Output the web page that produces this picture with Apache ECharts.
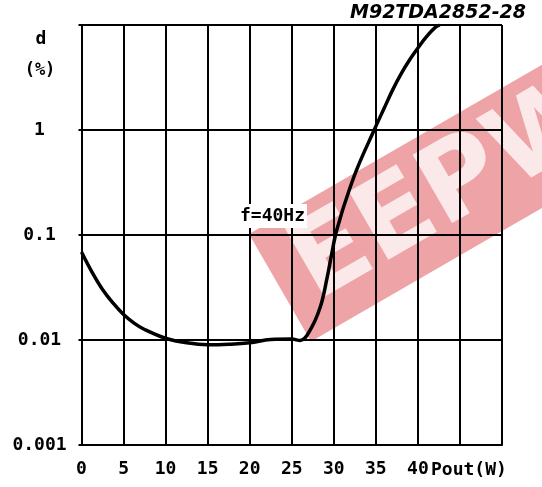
<!DOCTYPE html>
<html>
<head>
<meta charset="utf-8">
<script src="https://cdn.jsdelivr.net/npm/echarts@6/dist/echarts.min.js"></script>
<style>
  html, body { margin: 0; padding: 0; background: #fff; }
  #chart { width: 542px; height: 487px; }
</style>
</head>
<body>
<div id="chart"></div>
<script>
// output power (W) and distortion d (%)
let pout = [0, 1.25, 2.5, 3.75, 5, 6.25, 7.5, 10, 12.5, 15, 17.5, 20, 22.5, 25, 26, 27.2, 28.4, 29.2, 29.7, 30.2, 30.7, 31.2, 32.7, 34.8, 36, 37, 38, 39, 40, 41, 42, 42.6];
let dist = [0.069, 0.0444, 0.0303, 0.0225, 0.0175, 0.0145, 0.0126, 0.0104, 0.0094, 0.009, 0.0091, 0.0094, 0.0101, 0.0102, 0.0099, 0.0125, 0.0207, 0.039, 0.063, 0.1, 0.139, 0.189, 0.415, 1.0, 1.62, 2.41, 3.42, 4.64, 6.04, 7.69, 9.39, 10];

let xTicks = ['0', '5', '10', '15', '20', '25', '30', '35', '40', '', ''];
let yTicks = ['0.001', '0.01', '0.1', '1', ''];

let font = '"DejaVu Sans Mono", monospace';

let chart = echarts.init(document.getElementById('chart'));
let data = pout.map((p, i) => [p, dist[i]]);

let option = {
    backgroundColor: '#fff',
    animation: false,
    grid: { left: 81.5, right: 40, top: 25, bottom: 42 },
    xAxis: {
        type: 'value',
        min: 0,
        max: 50,
        interval: 5,
        axisLine: { show: true, lineStyle: { color: '#000', width: 2 } },
        axisTick: { show: false },
        splitLine: { show: true, lineStyle: { color: '#000', width: 2 } },
        axisLabel: {
            margin: 15,
            color: '#000',
            fontFamily: font,
            fontWeight: 'bold',
            fontSize: 18,
            formatter: v => xTicks[Math.round(v / 5)]
        }
    },
    yAxis: {
        type: 'log',
        logBase: 10,
        min: 0.001,
        max: 10,
        axisLine: { show: true, lineStyle: { color: '#000', width: 2 } },
        axisTick: { show: true, length: 3, lineStyle: { color: '#000', width: 2 } },
        splitLine: { show: true, lineStyle: { color: '#000', width: 2 } },
        axisLabel: {
            margin: 42,
            align: 'center',
            color: '#000',
            fontFamily: font,
            fontWeight: 'bold',
            fontSize: 18,
            formatter: v => yTicks[Math.round(Math.log10(v)) + 3]
        }
    },
    series: [{
        type: 'line',
        data: data,
        smooth: 0.4,
        symbol: 'none',
        clip: true,
        lineStyle: { color: '#000', width: 3.5 }
    }],
    graphic: [
        { type: 'text', x: 526, y: 13,
          style: { text: 'M92TDA2852-28', fill: '#000', font: 'italic bold 19px "DejaVu Sans"', align: 'right', verticalAlign: 'middle' } },
        { type: 'text', x: 41, y: 39,
          style: { text: 'd', fill: '#000', font: 'bold 18px ' + font, align: 'center', verticalAlign: 'middle' } },
        { type: 'text', x: 40, y: 71,
          style: { text: '(%)', fill: '#000', font: 'bold 17px ' + font, align: 'center', verticalAlign: 'middle' } },
        { type: 'text', x: 431, y: 470,
          style: { text: 'Pout(W)', fill: '#000', font: 'bold 18px ' + font, verticalAlign: 'middle' } },
        { type: 'text', x: 238, y: 216, z: 50,
          style: { text: 'f=40Hz', fill: '#000', font: 'bold 18px ' + font, verticalAlign: 'middle',
                   backgroundColor: '#fff', padding: [3, 2] } },
        // watermark
        { type: 'group', x: 249, y: 234, rotation: Math.PI / 6, z: 100,
          children: [
            { type: 'rect', shape: { x: 0, y: 0, width: 420, height: 124 },
              style: { fill: 'rgba(215,35,45,0.42)' } },
            { type: 'text', x: 24, y: 64,
              style: { text: 'EEPW', fill: 'rgba(255,255,255,0.75)', font: 'bold 108px "DejaVu Sans"', verticalAlign: 'middle' } }
          ] }
    ]
};
chart.setOption(option);
</script>
</body>
</html>
